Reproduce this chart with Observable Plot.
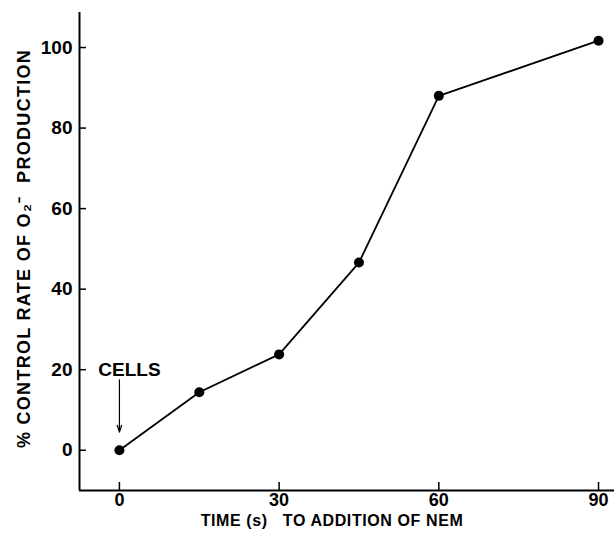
<!DOCTYPE html>
<html><head><meta charset="utf-8">
<script src="https://cdn.jsdelivr.net/npm/d3@7"></script>
<script src="https://cdn.jsdelivr.net/npm/@observablehq/plot@0.6"></script>
<style>body{margin:0;background:#fff} svg text{white-space:pre}</style>
</head><body><div id="chart"></div>
<script>
const times = [0, 15, 30, 45, 60, 90];
const rates = [0, 14.4, 23.8, 46.6, 88, 101.7];
const xTicks = [0, 30, 60, 90];
const yTicks = [0, 20, 40, 60, 80, 100];
const xDomain = [-7.5, 93];
const yDomain = [-10, 108.7];
const xTitle = "TIME (s)   TO ADDITION OF NEM";
const yTitle = "% CONTROL RATE OF O₂⁻  PRODUCTION";
const annotation = "CELLS";
const annotationY = 20;
const arrowX = 0, arrowFrom = 17.5, arrowTo = 4.5;

const data = times.map((t, i) => ({t, r: rates[i]}));

const chart = Plot.plot({
  width: 614, height: 541,
  marginLeft: 79, marginRight: 0, marginTop: 12, marginBottom: 51,
  x: {domain: xDomain, label: null},
  y: {domain: yDomain, label: null},
  style: {fontFamily: "'Liberation Sans', Arial, Helvetica, sans-serif", fontWeight: "bold", fontSize: "19px", color: "#000", background: "#fff"},
  marks: [
    Plot.ruleX([xDomain[0]], {strokeWidth: 2}),
    Plot.ruleY([yDomain[0]], {strokeWidth: 2}),
    Plot.axisY(yTicks, {tickSize: 7, dx: 7, tickFormat: () => "", label: null, strokeWidth: 1.5}),
    Plot.axisY(yTicks, {tickSize: 0, tickPadding: 7, label: null, fontSize: 19}),
    Plot.axisX(xTicks, {tickSize: 8, dy: -8, tickFormat: () => "", label: null, strokeWidth: 1.5}),
    Plot.axisX(xTicks, {tickSize: 0, tickPadding: 3, label: null, fontSize: 18}),
    Plot.line(data, {x: "t", y: "r", strokeWidth: 1.8, stroke: "#000"}),
    Plot.dot(data, {x: "t", y: "r", r: 5, fill: "#000"}),
    Plot.arrow([{x: arrowX, y1: arrowFrom, y2: arrowTo}], {x1: "x", x2: "x", y1: "y1", y2: "y2", headLength: 9, headAngle: 35, strokeWidth: 1.2, stroke: "#000"}),
    Plot.text([annotation], {x: arrowX, y: annotationY, dx: 10, text: d => d, fontSize: 19}),
    Plot.text([yTitle], {frameAnchor: "left", textAnchor: "middle", lineAnchor: "middle", dx: -55, dy: -3, rotate: -90, text: d => d, fontSize: 18}),
    Plot.text([xTitle], {frameAnchor: "bottom", textAnchor: "middle", lineAnchor: "middle", dx: -15, dy: 30, text: d => d, fontSize: 16})
  ]
});
d3.select(chart).selectAll("text").filter(function () { return this.textContent === yTitle; }).style("letter-spacing", "1.3px");
d3.select(chart).selectAll("text").filter(function () { return this.textContent === xTitle; }).style("letter-spacing", "0.6px");
document.getElementById("chart").appendChild(chart);
</script>
</body></html>
